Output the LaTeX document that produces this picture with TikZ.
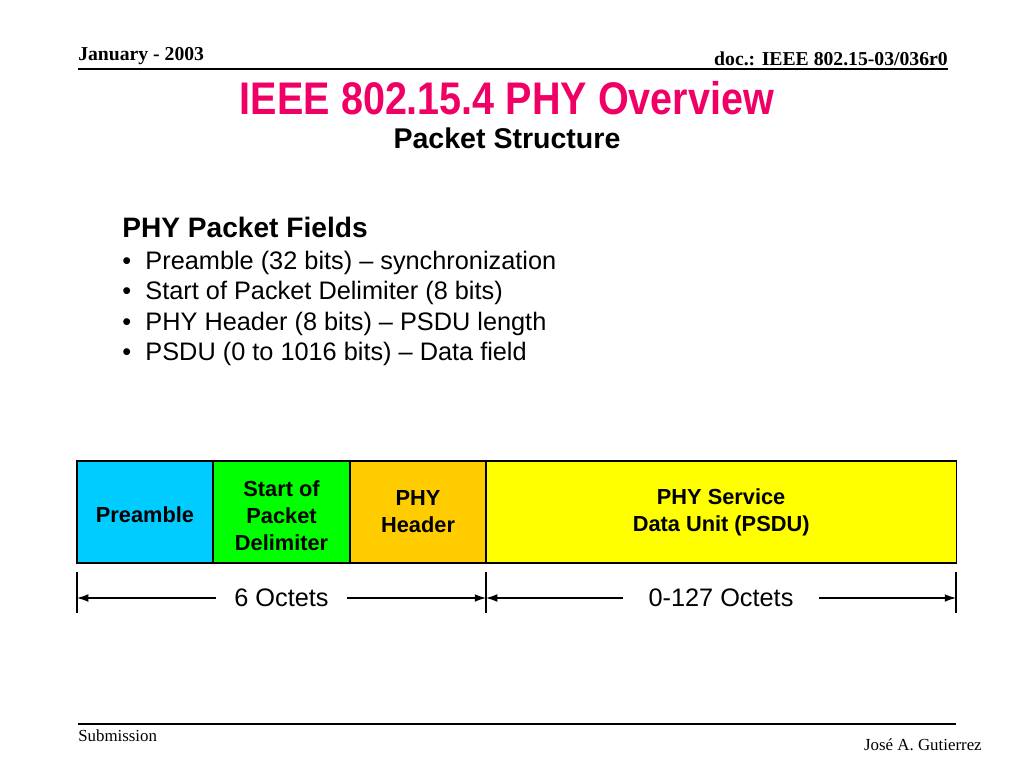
\documentclass[tikz,border=0pt]{standalone}
\usepackage{fontspec}
\setmainfont{Liberation Serif}
\setsansfont{Liberation Sans}
\newfontfamily\titlefont[FakeStretch=0.865]{Liberation Sans Bold}
\usetikzlibrary{positioning, arrows.meta}
\definecolor{titlered}{RGB}{240,0,100}
\definecolor{preamblecyan}{RGB}{0,204,255}
\definecolor{sfdgreen}{RGB}{0,255,0}
\definecolor{headerorange}{RGB}{255,204,0}
\definecolor{psduyellow}{RGB}{255,255,0}
\tikzset{
  boxtext/.style={align=center, font=\sffamily\bfseries\fontsize{15.5}{19.2}\selectfont},
  field/.style={draw, line width=0.9pt, outer sep=0pt, minimum height=2.55cm, boxtext},
  dimline/.style={{Latex[length=8pt,width=5.5pt]}-{Latex[length=8pt,width=5.5pt]}, line width=0.8pt},
  dimtick/.style={line width=0.8pt},
  dimlabel/.style={fill=white, inner xsep=13pt, font=\sffamily\fontsize{18}{20}\selectfont},
  slidetext/.style={inner sep=0pt, font=\sffamily\fontsize{18}{20}\selectfont}
}

\begin{document}
\begin{tikzpicture}[x=0.025cm, y=-0.025cm]
    \useasboundingbox (0,0) rectangle (1024,768);

    % Header of the slide
    \node[anchor=base west, inner sep=0pt, font=\bfseries\fontsize{14}{16}\selectfont] (date) at (78,61) {January - 2003};
    \node[anchor=base east, inner sep=0pt, font=\bfseries\fontsize{14}{16}\selectfont] (doc) at (948,66) {doc.: IEEE 802.15-03/036r0};
    \draw[line width=1.4pt] (78,69) -- (948,69);

    % Title
    \node[anchor=base, inner sep=0pt, text=titlered, font=\titlefont\fontsize{32.5}{36}\selectfont] (title) at (507,115) {IEEE 802.15.4 PHY Overview};
    \node[anchor=base, inner sep=0pt, font=\sffamily\bfseries\fontsize{20.3}{24}\selectfont] (subtitle) at (507,149) {Packet Structure};

    % Field list
    \node[anchor=base west, slidetext, font=\sffamily\bfseries\fontsize{20}{24}\selectfont] (fields) at (122,237) {PHY Packet Fields};
    \foreach \txt [count=\i] in {Preamble (32 bits) -- synchronization, Start of Packet Delimiter (8 bits),
        PHY Header (8 bits) -- PSDU length, PSDU (0 to 1016 bits) -- Data field}
        \node[anchor=base west, slidetext] (item\i) at (122,{238.5+30.5*\i}) {\makebox[16.5pt][l]{•}\txt};

    % Packet fields
    \node[field, fill=preamblecyan, minimum width=3.4cm, anchor=north west] (pre) at (77,461) {};
    \node[field, fill=sfdgreen, minimum width=3.425cm, right=0pt of pre] (sfd) {};
    \node[field, fill=headerorange, minimum width=3.4cm, right=0pt of sfd] (phr) {PHY\\Header};
    \node[field, fill=psduyellow, minimum width=11.75cm, right=0pt of phr] (psdu) {PHY Service\\Data Unit (PSDU)};
    \node[boxtext] (pretext) at ([yshift=-2.2pt]pre.center) {Preamble};
    \node[boxtext] (sfdtext) at ([yshift=-2.8pt]sfd.center) {Start of\\Packet\\Delimiter};

    % Sizes
    \foreach \x in {77,486,956}
        \draw[dimtick] (\x,572) -- (\x,613);
    \coordinate (d1) at (77,598);
    \coordinate (d2) at (486,598);
    \coordinate (d3) at (956,598);
    \draw[dimline] (d1) -- (d2) node[midway, dimlabel] (six) {6 Octets};
    \draw[dimline] (d2) -- (d3) node[midway, dimlabel, inner xsep=18pt] (var) {0-127 Octets};

    % Footer
    \draw[line width=1.4pt] (78,724) -- (956,724);
    \node[anchor=base west, inner sep=0pt, font=\fontsize{12}{14}\selectfont] (sub) at (78,741) {Submission};
    \node[anchor=base east, inner sep=0pt, font=\fontsize{12}{14}\selectfont] (author) at (982,750) {José A. Gutierrez};
\end{tikzpicture}
\end{document}
